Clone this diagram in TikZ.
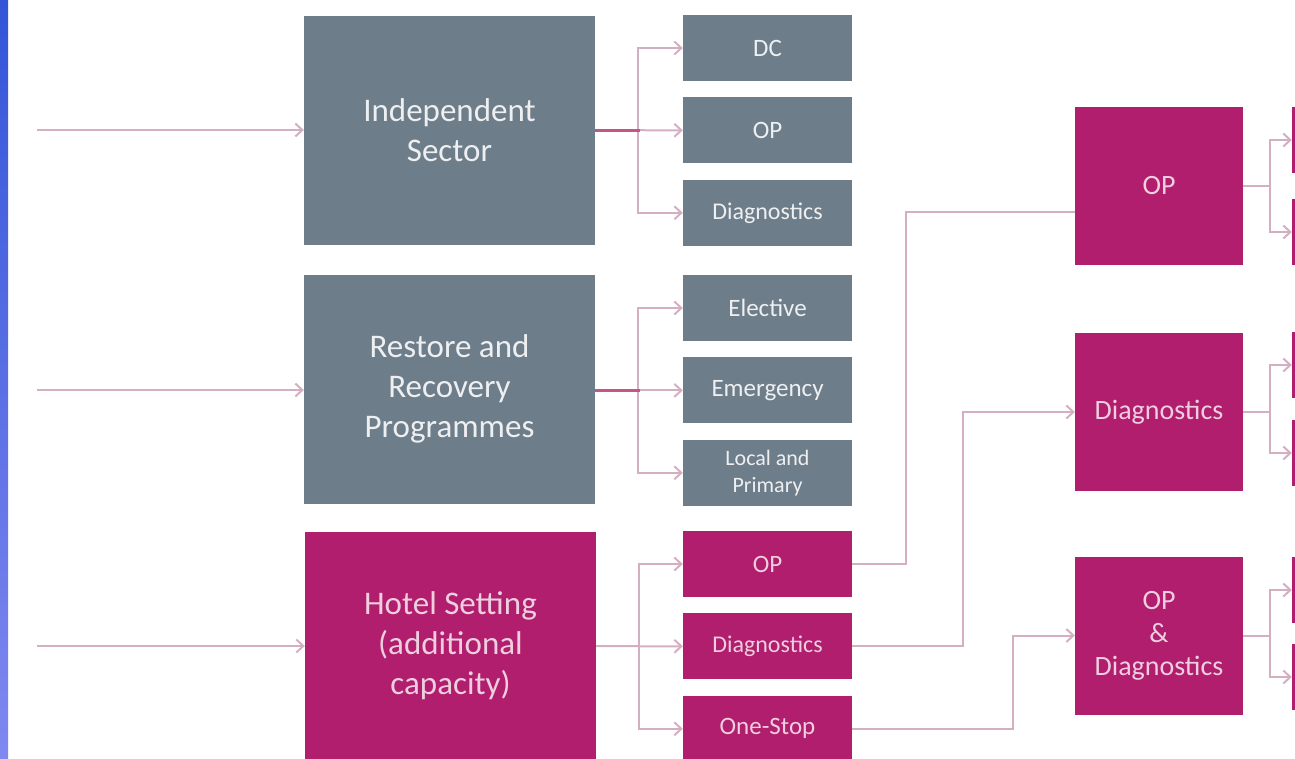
\documentclass[tikz,border=0pt]{standalone}
\usepackage{fontspec}
\setmainfont{Carlito}
\usepackage{tikz}
\usetikzlibrary{arrows.meta,positioning,calc}
\definecolor{slate}{HTML}{6E7D8A}
\definecolor{plum}{HTML}{B01E6D}
\definecolor{wire}{HTML}{D4AFC2}
\definecolor{stubwire}{HTML}{C4558A}
\definecolor{stripA}{HTML}{3355D8}
\definecolor{stripB}{HTML}{8088F0}
\tikzset{
    bigbox/.style={minimum width=291pt, minimum height=229pt, inner sep=0pt, align=center, font=\fontsize{33}{40}\selectfont},
    smallbox/.style={minimum width=169pt, minimum height=66pt, inner sep=0pt, align=center, font=\fontsize{25}{28}\selectfont},
    sidebox/.style={minimum width=168pt, minimum height=158pt, inner sep=0pt, align=center, font=\fontsize{28}{33}\selectfont},
    greybox/.style={fill=slate, text=slate!12},
    pinkbox/.style={fill=plum, text=plum!22},
    feed/.style={-{Straight Barb[length=7pt, width=13pt]}, line width=2pt, wire},
    link/.style={line width=2pt, wire},
    stub/.style={line width=3pt, stubwire}
}

\begin{document}
\begin{tikzpicture}[x=1pt, y=-1pt, node distance=16pt]
\useasboundingbox (0,0) rectangle (1295,758);
\clip (0,0) rectangle (1295,758);
\shade[top color=stripA, bottom color=stripB] (0,0) rectangle (8,758);

\node[bigbox, greybox] (indep) at (449.5,130) {Independent\\Sector};
\node[bigbox, greybox] (restore) at (449.5,389) {Restore and\\Recovery\\Programmes};
\node[bigbox, pinkbox] (hotel) at (450.5,646) {Hotel Setting\\(additional\\capacity)};

\node[smallbox, greybox] (dc) at (767.5,48) {DC};
\node[smallbox, greybox, below=of dc] (op1) {OP};
\node[smallbox, greybox, below=of op1, font=\fontsize{24}{28}\selectfont] (diag1) {Diagnostics};

\node[smallbox, greybox] (elect) at (767.5,308) {Elective};
\node[smallbox, greybox, below=of elect] (emerg) {Emergency};
\node[smallbox, greybox, below=of emerg, font=\fontsize{22}{27}\selectfont] (local) {Local and\\Primary};

\node[smallbox, pinkbox] (op3) at (767.5,564) {OP};
\node[smallbox, pinkbox, below=of op3, font=\fontsize{24}{28}\selectfont] (diag3) {Diagnostics};
\node[smallbox, pinkbox, below=of diag3] (onestop) {One-Stop};

\node[sidebox, pinkbox] (opR) at (1159,186) {OP};
\node[sidebox, pinkbox] (diagR) at (1159,412) {Diagnostics};
\node[sidebox, pinkbox] (opdR) at (1159,635.5) {OP\\\&\\Diagnostics};

\foreach \name/\y in {ra/140, rb/232, rc/365, rd/453, re/590, rf/677}
    \node[smallbox, pinkbox] (\name) at (1376.5,\y) {};

\coordinate (inA) at (37,130);
\coordinate (inB) at (37,390);
\coordinate (inC) at (37,646);
\draw[feed] (inA) -- (indep);
\draw[feed] (inB) -- (inB -| restore.west);
\draw[feed] (inC) -- (hotel);

\draw[feed] (indep.east) ++(43,0) |- (dc);
\draw[feed] (indep.east) ++(43,0) |- (diag1);
\draw[feed] (indep) -- (op1);
\draw[stub] (indep.east) -- ++(45,0);

\draw[feed] (restore.east |- emerg) ++(43,0) |- (elect);
\draw[feed] (restore.east |- emerg) ++(43,0) |- (local);
\draw[feed] (restore.east |- emerg) -- (emerg);
\draw[stub] (restore.east |- emerg) -- ++(45,0);

\draw[feed] (hotel.east) ++(43,0) |- (op3);
\draw[feed] (hotel.east) ++(43,0) |- (onestop);
\draw[feed] (hotel) -- (diag3);

\draw[link] (op3.east) -- ++(54,0) |- ([yshift=-26pt]opR.west);
\draw[feed] (diag3.east) -- ++(111,0) |- (diagR.west);
\draw[feed] (onestop.east) -- ++(161,0) |- (opdR.west);

\draw[link] (opR.east) -- ++(27,0);
\draw[feed] (opR.east) ++(27,0) |- (ra);
\draw[feed] (opR.east) ++(27,0) |- (rb);
\draw[link] (diagR.east) -- ++(27,0);
\draw[feed] (diagR.east) ++(27,0) |- (rc);
\draw[feed] (diagR.east) ++(27,0) |- (rd);
\draw[link] (opdR.east) -- ++(27,0);
\draw[feed] (opdR.east) ++(27,0) |- (re);
\draw[feed] (opdR.east) ++(27,0) |- (rf);
\end{tikzpicture}
\end{document}
